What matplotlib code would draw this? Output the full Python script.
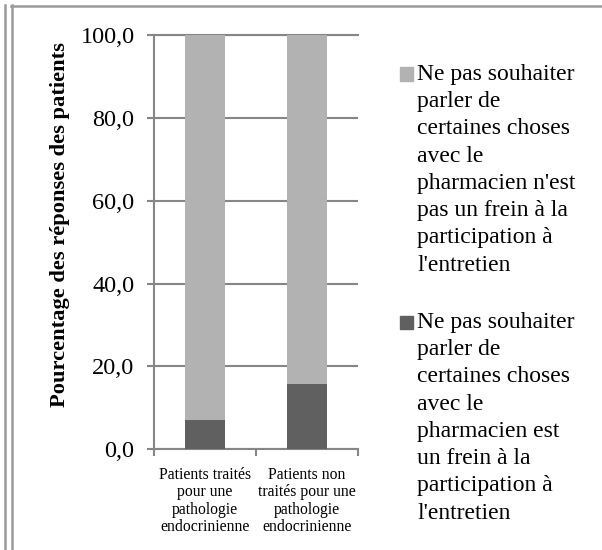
import matplotlib.pyplot as plt
from matplotlib.lines import Line2D
from matplotlib.patches import Rectangle
from matplotlib.ticker import FuncFormatter

# Data
categories = [
    "Patients traités\npour une\npathologie\nendocrinienne",
    "Patients non\ntraités pour une\npathologie\nendocrinienne",
]
frein = [7.1, 15.7]
pas_frein = [92.9, 84.3]
series_labels = [
    "Ne pas souhaiter\nparler de\ncertaines choses\navec le\npharmacien n'est\npas un frein à la\nparticipation à\nl'entretien",
    "Ne pas souhaiter\nparler de\ncertaines choses\navec le\npharmacien est\nun frein à la\nparticipation à\nl'entretien",
]
series_colors = ["#b2b2b2", "#606060"]
yticks = [0, 20, 40, 60, 80, 100]
ylabel = "Pourcentage des réponses des patients"

plt.rcParams["font.family"] = ["Liberation Serif", "DejaVu Serif"]
W, H = 602, 550
grey = "#868686"

fig = plt.figure(figsize=(W / 100, H / 100), dpi=100)
ax = fig.add_axes([154 / W, 1 - 449.3 / H, 204 / W, 414.3 / H])

x = list(range(len(categories)))
ax.bar(x, frein, width=0.4, color=series_colors[1], zorder=3)
ax.bar(x, pas_frein, width=0.4, bottom=frein, color=series_colors[0], zorder=3)

ax.set_xlim(-0.5, len(categories) - 0.5)
ax.set_ylim(0, 100)
ax.set_yticks(yticks)
ax.yaxis.set_major_formatter(FuncFormatter(lambda v, p: f"{v:.1f}".replace(".", ",")))
ax.yaxis.grid(True, color=grey, linewidth=1.5)
ax.set_axisbelow(True)

ax.spines["right"].set_visible(False)
for side in ["left", "bottom", "top"]:
    ax.spines[side].set_color(grey)
    ax.spines[side].set_linewidth(1.5)

ax.tick_params(axis="y", length=5, width=1.5, color=grey, pad=9, labelsize=17.5)
ax.set_xticks(x)
ax.set_xticklabels(categories, fontsize=11.3, linespacing=1.12)
ax.set_xticks([i - 0.5 for i in range(len(categories) + 1)], minor=True)
ax.tick_params(axis="x", which="major", length=0, pad=12.5)
ax.tick_params(axis="x", which="minor", length=5, width=1.5, color=grey)

fig.text(60 / W, 1 - 225 / H, ylabel, rotation=90, fontsize=16.2,
         fontweight="bold", ha="center", va="center")

# legend drawn by hand so the keys line up with the first text line
legend_tops = [74, 322]
for lab, col, yc in zip(series_labels, series_colors, legend_tops):
    fig.add_artist(Rectangle((400 / W, 1 - (yc + 6.5) / H), 13 / W, 13 / H,
                             transform=fig.transFigure, color=col))
    fig.text(417 / W, 1 - (yc - 10) / H, lab, fontsize=17, va="top",
             ha="left", linespacing=1.39)

# frame lines
for xp in [4.5, 11.5]:
    fig.add_artist(Line2D([xp / W, xp / W], [0, 1 - 5 / H], transform=fig.transFigure,
                          color="#9a9a9a", linewidth=1.8))
fig.add_artist(Line2D([10.5 / W, 1], [1 - 6 / H, 1 - 6 / H], transform=fig.transFigure,
                      color="#9a9a9a", linewidth=1.8))

fig.savefig("out.png", dpi=100)
